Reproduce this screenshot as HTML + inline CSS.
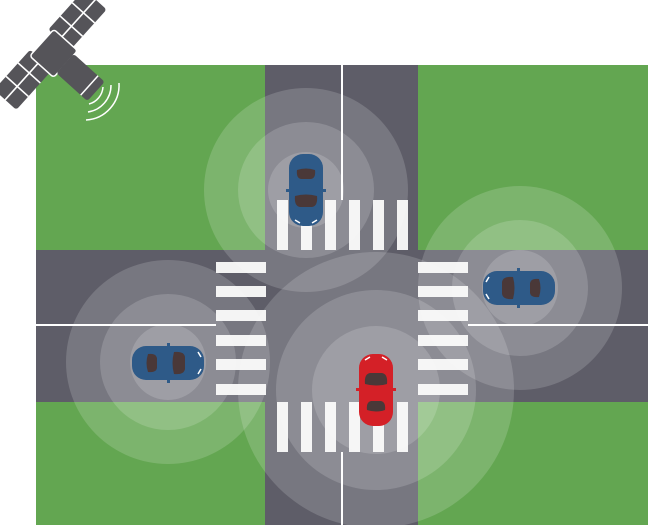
<!DOCTYPE html>
<html><head><style>body{margin:0;background:#fff}svg{display:block}</style></head><body>
<svg width="648" height="529" viewBox="0 0 648 529" xmlns="http://www.w3.org/2000/svg">
<defs>
<g id="car">
<rect x="-36" y="-17" width="72" height="34" rx="14" fill="currentColor"/>
<path d="M6,-11 Q16,-12 17,-6 L17,6 Q16,12 6,11 Q3,0 6,-11Z" fill="#4a3838"/>
<path d="M-20,-9 Q-12,-10 -11,-5 L-11,5 Q-12,10 -20,9 Q-23,0 -20,-9Z" fill="#4a3838"/>
<rect x="-1" y="-20" width="3" height="4" fill="currentColor"/>
<rect x="-1" y="16" width="3" height="4" fill="currentColor"/>
<path d="M30,-11 L33,-6 M30,11 L33,6" stroke="#fff" stroke-width="1.5"/>
</g>
<g id="stripesH"><rect x="0" y="0" width="50" height="11"/><rect x="0" y="24" width="50" height="11"/><rect x="0" y="48" width="50" height="11"/><rect x="0" y="73" width="50" height="11"/><rect x="0" y="97" width="50" height="11"/><rect x="0" y="122" width="50" height="11"/></g>
<g id="stripesV"><rect x="0" y="0" width="11" height="50"/><rect x="24" y="0" width="11" height="50"/><rect x="48" y="0" width="11" height="50"/><rect x="72" y="0" width="11" height="50"/><rect x="96" y="0" width="11" height="50"/><rect x="120" y="0" width="11" height="50"/></g>
<g id="panel">
<rect x="-27" y="-15" width="54" height="30" rx="3" fill="#555459"/>
<path d="M-27,0 H27 M-9,-15 V15 M9,-15 V15" stroke="#fff" stroke-width="1.6"/>
</g>
</defs>
<rect x="36" y="65" width="612" height="460" fill="#63a651"/>
<rect x="265" y="65" width="153" height="460" fill="#5e5d68"/>
<rect x="36" y="250" width="612" height="152" fill="#5e5d68"/>
<g stroke="#fff" stroke-width="2">
<line x1="342" y1="65" x2="342" y2="200"/><line x1="342" y1="452" x2="342" y2="525"/>
<line x1="36" y1="325" x2="216" y2="325"/><line x1="468" y1="325" x2="648" y2="325"/>
</g>
<g fill="#f2f2f2">
<use href="#stripesH" x="418" y="262"/><use href="#stripesH" x="216" y="262"/>
<use href="#stripesV" x="277" y="200"/><use href="#stripesV" x="277" y="402"/>
</g>
<g fill="#fff" fill-opacity="0.16">
<circle cx="306" cy="190" r="102"/><circle cx="306" cy="190" r="68"/><circle cx="306" cy="190" r="38"/>
<circle cx="520" cy="288" r="102"/><circle cx="520" cy="288" r="68"/><circle cx="520" cy="288" r="38"/>
<circle cx="168" cy="362" r="102"/><circle cx="168" cy="362" r="68"/><circle cx="168" cy="362" r="38"/>
<circle cx="376" cy="390" r="138"/><circle cx="376" cy="390" r="100"/><circle cx="376" cy="390" r="64"/>
</g>
<use href="#car" transform="translate(168,363)" color="#2e5a88"/>
<use href="#car" transform="translate(519,288) rotate(180)" color="#2e5a88"/>
<use href="#car" transform="translate(306,190) rotate(90)" color="#2e5a88"/>
<use href="#car" transform="translate(376,390) rotate(-90)" color="#d42027"/>
<g transform="translate(50,50) rotate(-48)">
<use href="#panel" x="41" y="0"/>
<use href="#panel" x="-40" y="0"/>
<rect x="-18" y="-11" width="36" height="32" rx="3" fill="#555459" stroke="#fff" stroke-width="1.5"/>
<rect x="-13" y="20" width="26" height="42" rx="3" fill="#555459"/>
<line x1="-13" y1="53" x2="13" y2="53" stroke="#fff" stroke-width="1.5"/>
</g>
<g stroke="#fff" stroke-width="1.5" fill="none">
<path d="M103,87 A19,19 0 0 1 89,104"/>
<path d="M111,85 A27,27 0 0 1 88,112"/>
<path d="M119,83 A35,35 0 0 1 86,120"/>
</g>
</svg>
</body></html>
